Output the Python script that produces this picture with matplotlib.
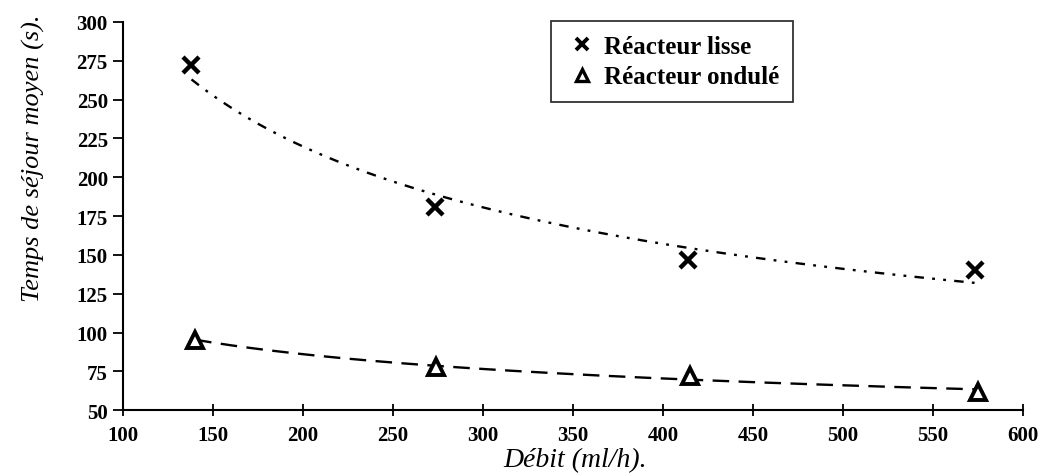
import numpy as np
import matplotlib
matplotlib.use("Agg")
import matplotlib.pyplot as plt
from matplotlib.lines import Line2D

# Measured mean residence time versus flow rate
debit_lisse = [138, 273, 414, 573]
temps_lisse = [272, 181, 147, 140]
debit_ondule = [140, 274, 415, 575]
temps_ondule = [95, 78, 72, 62]

x_ticks = [100, 150, 200, 250, 300, 350, 400, 450, 500, 550, 600]
y_ticks = [50, 75, 100, 125, 150, 175, 200, 225, 250, 275, 300]


def power_trend(x, y, n=200):
    """Least-squares power law y = a * x**b over the data range."""
    b, ln_a = np.polyfit(np.log(x), np.log(y), 1)
    xs = np.linspace(min(x), max(x), n)
    return xs, np.exp(ln_a) * xs ** b


plt.rcParams['font.family'] = ['Liberation Serif', 'DejaVu Serif']

W, H = 1043, 477
fig = plt.figure(figsize=(W / 100, H / 100), dpi=100)
ax = fig.add_axes([0.118, 0.138, 0.863, 0.814])

xs, ys = power_trend(debit_lisse, temps_lisse)
ax.plot(xs, ys, color='black', lw=1.7,
        linestyle=(0, (4, 3.5, 1.2, 3.5, 1.2, 3.5)))
xs, ys = power_trend(debit_ondule, temps_ondule)
ax.plot(xs, ys, color='black', lw=1.7, linestyle=(0, (7, 4)))

ax.plot(debit_lisse, temps_lisse, linestyle='none', marker='x',
        ms=12, mew=3.2, color='black')
ax.plot(debit_ondule, temps_ondule, linestyle='none', marker='^',
        ms=11, mew=2.8, mfc='white', mec='black')

ax.set_xlim(100, 600)
ax.set_ylim(50, 300)
ax.set_xticks(x_ticks)
ax.set_yticks(y_ticks)
for s in ('top', 'right'):
    ax.spines[s].set_visible(False)
for s in ('left', 'bottom'):
    ax.spines[s].set_linewidth(1.5)
ax.tick_params(axis='y', direction='out', length=7, width=1.3, pad=4)
ax.tick_params(axis='x', direction='inout', length=8, width=1.3, pad=7)
for lab in ax.get_xticklabels() + ax.get_yticklabels():
    lab.set_fontsize(15)
    lab.set_fontweight('bold')

fig.text(575 / W, 1 - 461 / H, 'Débit (ml/h).', fontsize=20,
         style='italic', ha='center', va='center')
fig.text(33 / W, 1 - 158 / H, 'Temps de séjour moyen (s).', fontsize=19,
         style='italic', rotation=90, ha='center', va='center')

handles = [
    Line2D([], [], linestyle='none', marker='x', ms=9, mew=2.8, color='black'),
    Line2D([], [], linestyle='none', marker='^', ms=8, mew=2.4,
           mfc='white', mec='black'),
]
leg = fig.legend(handles, ['Réacteur lisse', 'Réacteur ondulé'],
                 loc='upper left', bbox_to_anchor=(551 / W, 1 - 22 / H),
                 frameon=True, fancybox=False, edgecolor='black',
                 handlelength=1.4, handletextpad=0.15, borderpad=0.55,
                 borderaxespad=0, labelspacing=0.3,
                 prop={'size': 18, 'weight': 'bold'})
leg.get_frame().set_linewidth(1.3)

fig.savefig('out.png', dpi=100)
